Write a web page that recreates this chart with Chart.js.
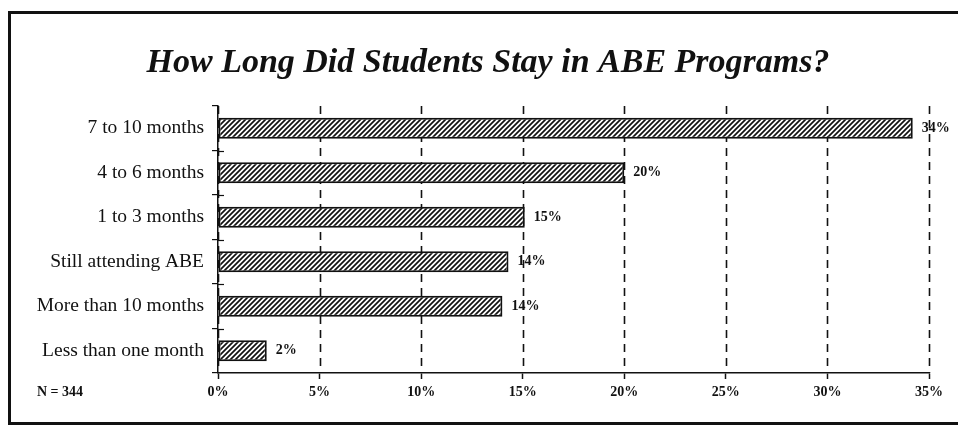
<!DOCTYPE html>
<html>
<head>
<meta charset="utf-8">
<script src="https://cdn.jsdelivr.net/npm/chart.js@4.4.1/dist/chart.umd.min.js"></script>
<style>
    html, body { margin: 0; padding: 0; background: #fff; }
    #wrap { position: relative; width: 958px; height: 425px; overflow: hidden; }
    #frame {
        position: absolute; left: 8px; top: 11px; width: 960px; height: 408px;
        border-left: 3px solid #111; border-top: 3px solid #111; border-bottom: 3px solid #111;
    }
    #chart { position: absolute; left: 0; top: 0; }
</style>
</head>
<body>
<div id="wrap">
    <div id="frame"></div>
    <canvas id="chart" width="958" height="425"></canvas>
</div>
<script>
const categories = [
    '7 to 10 months',
    '4 to 6 months',
    '1 to 3 months',
    'Still attending ABE',
    'More than 10 months',
    'Less than one month'
];
const shares = [34.2, 20.0, 15.1, 14.3, 14.0, 2.4];
const tickLabels = ['0%', '5%', '10%', '15%', '20%', '25%', '30%', '35%'];
const titleText = 'How Long Did Students Stay in ABE Programs?';
const sampleNote = 'N = 344';

const serif = "'Liberation Serif', 'Times New Roman', serif";

// diagonal hatch fill like the printed bars
const makeHatch = () => {
    const c = document.createElement('canvas');
    c.width = 5;
    c.height = 5;
    const g = c.getContext('2d');
    g.fillStyle = '#fff';
    g.fillRect(0, 0, 5, 5);
    g.strokeStyle = '#111';
    g.lineWidth = 1.7;
    g.beginPath();
    g.moveTo(-1, 6); g.lineTo(6, -1);
    g.moveTo(-2, 2); g.lineTo(2, -2);
    g.moveTo(3, 7); g.lineTo(7, 3);
    g.stroke();
    return g.createPattern(c, 'repeat');
};

// dashed vertical grid under the bars, plus the small inner ticks on the category axis
const dashedGrid = {
    id: 'dashedGrid',
    beforeDatasetsDraw(chart) {
        const { ctx, chartArea } = chart;
        const xs = chart.scales.x;
        const ys = chart.scales.y;
        ctx.save();
        ctx.strokeStyle = '#111';
        ctx.lineWidth = 1.6;
        ctx.setLineDash([8, 6]);
        xs.ticks.forEach((t) => {
            const px = Math.round(xs.getPixelForValue(t.value)) + 0.5;
            ctx.beginPath();
            ctx.moveTo(px, chartArea.top);
            ctx.lineTo(px, chartArea.bottom);
            ctx.stroke();
        });
        ctx.setLineDash([]);
        ctx.lineWidth = 1.2;
        const step = (ys.bottom - ys.top) / categories.length;
        for (let i = 1; i < categories.length; i++) {
            const py = Math.round(ys.top + step * i) + 0.5;
            ctx.beginPath();
            ctx.moveTo(chartArea.left, py);
            ctx.lineTo(chartArea.left + 6, py);
            ctx.stroke();
        }
        ctx.restore();
    }
};

const extras = {
    id: 'extras',
    afterDraw(chart) {
        const { ctx } = chart;
        const xs = chart.scales.x;
        ctx.save();
        ctx.fillStyle = '#111';

        ctx.font = `italic bold 34px ${serif}`;
        ctx.textAlign = 'center';
        ctx.textBaseline = 'middle';
        ctx.fillText(titleText, 488, 63);

        ctx.font = `bold 14px ${serif}`;
        ctx.textAlign = 'left';
        const meta = chart.getDatasetMeta(0);
        meta.data.forEach((bar, i) => {
            ctx.fillText(Math.round(shares[i]) + '%', bar.x + 9, bar.y);
        });

        ctx.fillText(sampleNote, 37, xs.top + 19);
        ctx.restore();
    }
};

new Chart(document.getElementById('chart').getContext('2d'), {
    type: 'bar',
    data: {
        labels: categories,
        datasets: [{
            data: shares,
            backgroundColor: makeHatch(),
            borderColor: '#111',
            borderWidth: 2,
            borderSkipped: false,
            barPercentage: 0.47,
            categoryPercentage: 1
        }]
    },
    options: {
        indexAxis: 'y',
        responsive: false,
        animation: false,
        events: [],
        layout: { padding: { top: 106, left: 10, right: 29, bottom: 12 } },
        plugins: {
            legend: { display: false },
            tooltip: { enabled: false },
            title: { display: false }
        },
        scales: {
            x: {
                min: 0,
                max: 35,
                afterFit: (s) => { s.height = 40; },
                afterBuildTicks: (s) => {
                    s.ticks = tickLabels.map((t, i) => ({ value: i * 5 }));
                },
                border: { display: true, color: '#111', width: 1.5 },
                grid: {
                    drawOnChartArea: false,
                    drawTicks: true,
                    tickLength: 6,
                    tickColor: '#111',
                    tickWidth: 1.5
                },
                ticks: {
                    callback: (v, i) => tickLabels[i],
                    color: '#111',
                    padding: 5,
                    maxRotation: 0,
                    font: { family: serif, size: 14, weight: 'bold' }
                }
            },
            y: {
                afterFit: (s) => { s.width = 208; },
                border: { display: true, color: '#111', width: 1.5 },
                grid: {
                    offset: true,
                    drawOnChartArea: false,
                    drawTicks: true,
                    tickLength: 6,
                    color: '#111',
                    lineWidth: 1.2
                },
                ticks: {
                    color: '#111',
                    padding: 8,
                    font: { family: serif, size: 19.5 }
                }
            }
        }
    },
    plugins: [dashedGrid, extras]
});
</script>
</body>
</html>
